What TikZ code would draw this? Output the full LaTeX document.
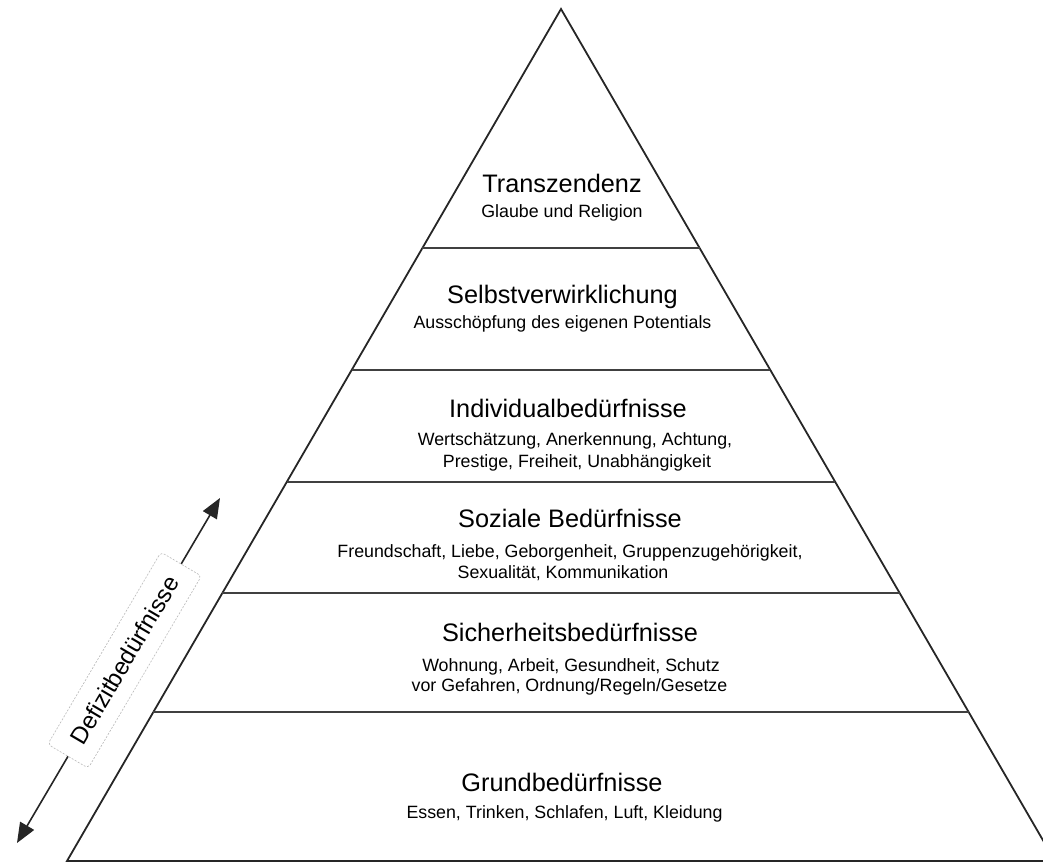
\documentclass[tikz,border=0pt]{standalone}
\usepackage{fontspec}
\setmainfont{Liberation Sans}
\usetikzlibrary{calc,arrows.meta}
\begin{document}
\begin{tikzpicture}[x=1pt,y=-1pt,
  edge/.style={line width=1.8pt, draw=black!85, line join=miter},
  tier/.style={line width=2pt, draw=black!75},
  title/.style={font=\fontsize{25.3}{30}\selectfont, text=black, anchor=base, inner sep=0pt},
  sub/.style={font=\fontsize{17.8}{22}\selectfont, text=black, anchor=base, inner sep=0pt},
  arrowline/.style={line width=1.6pt, draw=black!85},
  labelbox/.style={draw=gray!55, dash pattern=on 2pt off 1.5pt, line width=0.6pt, fill=white,
    rounded corners=4pt, minimum width=223pt, minimum height=47pt, rotate=59.5,
    font=\fontsize{24}{28}\selectfont, text=black, inner sep=2pt}]
\useasboundingbox (0,0) rectangle (1043,862);
\begin{scope}
\clip (0,0) rectangle (1043,862);
\coordinate (A) at (561,9);
\coordinate (L) at (67,861);
\coordinate (R) at (1055,861);
\draw[edge] (L) -- (A) -- (R) -- cycle;
\foreach \y [count=\i] in {248,370,482,593,712} {
  \coordinate (l\i) at ($(A)!{(\y-9)/852}!(L)$);
  \coordinate (r\i) at ($(A)!{(\y-9)/852}!(R)$);
  \draw[tier] (l\i) -- (r\i);
}
\end{scope}

\node[title] (t6) at (562,192) {Transzendenz};
\node[sub] (s6) at (562,217) {Glaube und Religion};
\node[title] (t5) at (562.5,303) {Selbstverwirklichung};
\node[sub] (s5) at (562.5,328) {Ausschöpfung des eigenen Potentials};
\node[title] (t4) at (568,417) {Individualbedürfnisse};
\node[sub] (s4a) at (575,445) {Wertschätzung, Anerkennung, Achtung,};
\node[sub] (s4b) at (577,467) {Prestige, Freiheit, Unabhängigkeit};
\node[title] (t3) at (570,527) {Soziale Bedürfnisse};
\node[sub] (s3a) at (570,557) {Freundschaft, Liebe, Geborgenheit, Gruppenzugehörigkeit,};
\node[sub] (s3b) at (563,578) {Sexualität, Kommunikation};
\node[title] (t2) at (570,641) {Sicherheitsbedürfnisse};
\node[sub] (s2a) at (571,671) {Wohnung, Arbeit, Gesundheit, Schutz};
\node[sub] (s2b) at (569.5,691) {vor Gefahren, Ordnung/Regeln/Gesetze};
\node[title] (t1) at (562,791) {Grundbedürfnisse};
\node[sub] (s1) at (564.5,818) {Essen, Trinken, Schlafen, Luft, Kleidung};

\coordinate (lo) at (17,843);
\coordinate (hi) at (220,498);
\draw[arrowline, {Triangle[length=20pt,width=16pt]}-{Triangle[length=20pt,width=16pt]}] (lo) -- (hi);
\node[labelbox] (def) at ($(lo)!0.53!(hi)$) {Defizitbedürfnisse};
\end{tikzpicture}
\end{document}
